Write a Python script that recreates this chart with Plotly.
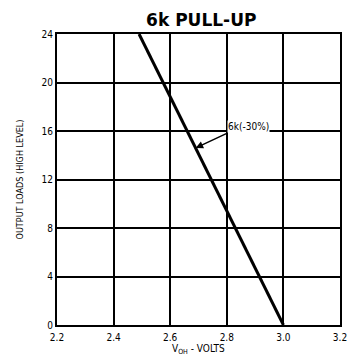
import plotly.graph_objects as go

vol_x = [2.49, 3.0]
loads_y = [24, 0]
x_ticks = [2.2, 2.4, 2.6, 2.8, 3.0, 3.2]
x_labels = ["2.2", "2.4", "2.6", "2.8", "3.0", "3.2"]
y_ticks = [0, 4, 8, 12, 16, 20, 24]
y_labels = ["0", "4", "8", "12", "16", "20", "24"]

fig = go.Figure()
fig.add_trace(go.Scatter(x=vol_x, y=loads_y, mode="lines",
                         line=dict(color="black", width=3), showlegend=False))

fig.add_annotation(x=2.69, y=14.6, ax=2.8, ay=15.8, xref="x", yref="y",
                   axref="x", ayref="y", text="6k(-30%)", showarrow=True,
                   arrowhead=2, arrowsize=1, arrowwidth=1.5, arrowcolor="black",
                   xanchor="left", yanchor="bottom", bgcolor="white", borderpad=0,
                   font=dict(family="DejaVu Sans Condensed", size=10, color="black"))

fig.add_annotation(x=0.5, y=0, xref="paper", yref="paper", showarrow=False,
                   text="V<sub>OH</sub> - VOLTS", yanchor="middle", yshift=-24,
                   font=dict(family="DejaVu Sans Condensed", size=10, color="black"))

fig.update_layout(
    width=350, height=364,
    margin=dict(l=57, r=10, t=34, b=39),
    paper_bgcolor="white", plot_bgcolor="white",
    title=dict(text="<b>6k PULL-UP</b>", x=0.575, xanchor="center", y=0.945, yanchor="middle",
               font=dict(family="DejaVu Sans", size=17, color="black")),
    font=dict(family="DejaVu Sans Condensed", size=10, color="black"),
)
fig.update_xaxes(range=[2.2, 3.2], tickvals=x_ticks, ticktext=x_labels,
                 showgrid=True, gridcolor="black", gridwidth=1.5,
                 showline=True, linecolor="black", linewidth=2, mirror=True,
                 ticks="", zeroline=False, automargin=False, ticklabelstandoff=2,
                 ticklabeloverflow="allow")
fig.update_yaxes(range=[0, 24], tickvals=y_ticks, ticktext=y_labels,
                 showgrid=True, gridcolor="black", gridwidth=1.5,
                 showline=True, linecolor="black", linewidth=2, mirror=True,
                 ticks="", zeroline=False, automargin=False,
                 title=dict(text="OUTPUT LOADS (HIGH LEVEL)", standoff=16, font=dict(size=9)))

fig.write_html("out.html", config={"displayModeBar": False},
               post_script="document.body.style.margin='0';document.body.style.overflow='hidden';")
